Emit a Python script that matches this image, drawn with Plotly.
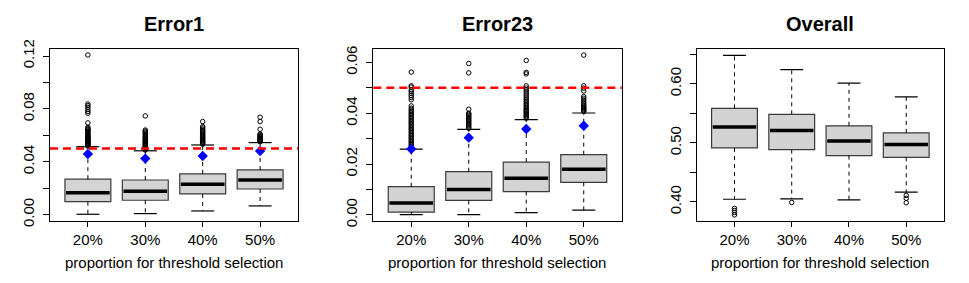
import plotly.graph_objects as go

categories = ["20%", "30%", "40%", "50%"]
panel_titles = ["Error1", "Error23", "Overall"]
x_title = "proportion for threshold selection"

# Error1 box statistics
e1_lower = [0.0003, 0.0008, 0.0028, 0.0066]
e1_q1 = [0.0098, 0.0109, 0.0157, 0.0194]
e1_median = [0.0166, 0.0177, 0.0230, 0.0262]
e1_q3 = [0.0268, 0.0262, 0.0308, 0.0338]
e1_upper = [0.0514, 0.0483, 0.0527, 0.0545]
e1_mean = [0.0459, 0.0424, 0.0444, 0.0482]
e1_out_20 = [0.0518, 0.0523, 0.0528, 0.0532, 0.0537, 0.0541, 0.0546, 0.0550, 0.0555,
             0.0560, 0.0565, 0.0570, 0.0576, 0.0581, 0.0587, 0.0593, 0.0600, 0.0607,
             0.0614, 0.0622, 0.0630, 0.0638, 0.0645, 0.0652, 0.0660, 0.0694, 0.0767,
             0.0780, 0.0795, 0.0812, 0.0825, 0.0837, 0.1208]
e1_out_30 = [0.0489, 0.0495, 0.0500, 0.0506, 0.0512, 0.0518, 0.0524, 0.0530, 0.0536,
             0.0542, 0.0548, 0.0555, 0.0562, 0.0569, 0.0576, 0.0584, 0.0592, 0.0600,
             0.0608, 0.0616, 0.0624, 0.0632, 0.0640, 0.0747]
e1_out_40 = [0.0533, 0.0540, 0.0547, 0.0554, 0.0561, 0.0568, 0.0576, 0.0584, 0.0592,
             0.0600, 0.0609, 0.0618, 0.0627, 0.0636, 0.0646, 0.0656, 0.0666, 0.0704]
e1_out_50 = [0.0552, 0.0557, 0.0562, 0.0567, 0.0572, 0.0578, 0.0584, 0.0590, 0.0597,
             0.0604, 0.0610, 0.0646, 0.0704, 0.0737]

# Error23 box statistics
e23_lower = [0.0001, 0.0001, 0.0009, 0.0019]
e23_q1 = [0.0011, 0.0057, 0.0092, 0.0128]
e23_median = [0.0047, 0.0100, 0.0144, 0.0180]
e23_q3 = [0.0111, 0.0170, 0.0208, 0.0237]
e23_upper = [0.0259, 0.0337, 0.0375, 0.0401]
e23_mean = [0.0259, 0.0304, 0.0338, 0.0351]
e23_out_20 = [0.0264, 0.0270, 0.0275, 0.0281, 0.0287, 0.0293, 0.0299, 0.0305, 0.0311,
              0.0317, 0.0323, 0.0329, 0.0335, 0.0341, 0.0347, 0.0353, 0.0359, 0.0365,
              0.0371, 0.0377, 0.0383, 0.0389, 0.0395, 0.0401, 0.0407, 0.0413, 0.0420,
              0.0429, 0.0453, 0.0462, 0.0470, 0.0478, 0.0485, 0.0492, 0.0503, 0.0508,
              0.0562]
e23_out_30 = [0.0341, 0.0346, 0.0351, 0.0356, 0.0361, 0.0366, 0.0371, 0.0376, 0.0381,
              0.0386, 0.0391, 0.0396, 0.0400, 0.0416, 0.0559, 0.0596]
e23_out_40 = [0.0381, 0.0386, 0.0391, 0.0396, 0.0401, 0.0406, 0.0411, 0.0416, 0.0422,
              0.0428, 0.0434, 0.0440, 0.0446, 0.0453, 0.0460, 0.0468, 0.0476, 0.0484,
              0.0492, 0.0499, 0.0508, 0.0555, 0.0561, 0.0608]
e23_out_50 = [0.0407, 0.0411, 0.0415, 0.0419, 0.0423, 0.0428, 0.0433, 0.0439, 0.0445,
              0.0452, 0.0459, 0.0466, 0.0488, 0.0499, 0.0508, 0.0629]

# Overall box statistics
ov_lower = [0.4045, 0.4051, 0.4034, 0.4164]
ov_q1 = [0.4914, 0.4886, 0.4784, 0.4755]
ov_median = [0.5267, 0.5210, 0.5033, 0.4971]
ov_q3 = [0.5585, 0.5483, 0.5289, 0.5170]
ov_upper = [0.6482, 0.6243, 0.6011, 0.5778]
ov_out_20 = [0.3890, 0.3855, 0.3820, 0.3780]
ov_out_30 = [0.3990]
ov_out_40 = []
ov_out_50 = [0.4110, 0.4060, 0.3985]

threshold = 0.05

e1_ticks = [0.00, 0.02, 0.04, 0.06, 0.08, 0.10, 0.12]
e1_ticktext = ["0.00", "", "0.04", "", "0.08", "", "0.12"]
e23_ticks = [0.00, 0.01, 0.02, 0.03, 0.04, 0.05, 0.06]
e23_ticktext = ["0.00", "", "0.02", "", "0.04", "", "0.06"]
ov_ticks = [0.40, 0.45, 0.50, 0.55, 0.60, 0.65]
ov_ticktext = ["0.40", "", "0.50", "", "0.60", ""]

panels = [
    dict(lower=e1_lower, q1=e1_q1, med=e1_median, q3=e1_q3, upper=e1_upper,
         mean=e1_mean, outs=[e1_out_20, e1_out_30, e1_out_40, e1_out_50],
         ticks=e1_ticks, ticktext=e1_ticktext, yrange=[-0.0048, 0.1253], hline=True),
    dict(lower=e23_lower, q1=e23_q1, med=e23_median, q3=e23_q3, upper=e23_upper,
         mean=e23_mean, outs=[e23_out_20, e23_out_30, e23_out_40, e23_out_50],
         ticks=e23_ticks, ticktext=e23_ticktext, yrange=[-0.0024, 0.0653], hline=True),
    dict(lower=ov_lower, q1=ov_q1, med=ov_median, q3=ov_q3, upper=ov_upper,
         mean=None, outs=[ov_out_20, ov_out_30, ov_out_40, ov_out_50],
         ticks=ov_ticks, ticktext=ov_ticktext, yrange=[0.3676, 0.6591], hline=False),
]

W, H = 969, 283
x_px = [(50, 298), (373.3, 621.7), (696.7, 944)]
y_px = (49, 221)
FONT = "Liberation Sans, Arial, Helvetica, sans-serif"

fig = go.Figure()
xpos = list(range(1, len(categories) + 1))
BW = 0.8

for k, p in enumerate(panels):
    xa = "x" if k == 0 else f"x{k+1}"
    ya = "y" if k == 0 else f"y{k+1}"
    # box bodies
    fig.add_trace(go.Bar(
        x=xpos, base=p["q1"], y=[b - a for a, b in zip(p["q1"], p["q3"])],
        width=BW, marker=dict(color="#d3d3d3", line=dict(color="#3a3a3a", width=1.2)),
        xaxis=xa, yaxis=ya, showlegend=False, hoverinfo="skip"))
    # whiskers (dashed)
    wx, wy = [], []
    for i, x in enumerate(xpos):
        wx += [x, x, None, x, x, None]
        wy += [p["q3"][i], p["upper"][i], None, p["q1"][i], p["lower"][i], None]
    fig.add_trace(go.Scatter(x=wx, y=wy, mode="lines",
                             line=dict(color="black", width=1, dash="4px,4px"),
                             xaxis=xa, yaxis=ya, showlegend=False, hoverinfo="skip"))
    # staples
    sx, sy = [], []
    for i, x in enumerate(xpos):
        sx += [x - BW / 4, x + BW / 4, None, x - BW / 4, x + BW / 4, None]
        sy += [p["upper"][i], p["upper"][i], None, p["lower"][i], p["lower"][i], None]
    fig.add_trace(go.Scatter(x=sx, y=sy, mode="lines", line=dict(color="black", width=1.2),
                             xaxis=xa, yaxis=ya, showlegend=False, hoverinfo="skip"))
    # medians
    mx, my = [], []
    for i, x in enumerate(xpos):
        mx += [x - BW / 2 + 0.02, x + BW / 2 - 0.02, None]
        my += [p["med"][i], p["med"][i], None]
    fig.add_trace(go.Scatter(x=mx, y=my, mode="lines", line=dict(color="black", width=3.5),
                             xaxis=xa, yaxis=ya, showlegend=False, hoverinfo="skip"))
    # outliers
    ox, oy = [], []
    for i, x in enumerate(xpos):
        ox += [x] * len(p["outs"][i])
        oy += p["outs"][i]
    fig.add_trace(go.Scatter(x=ox, y=oy, mode="markers",
                             marker=dict(symbol="circle-open", size=4.5, color="black",
                                         line=dict(width=1)),
                             xaxis=xa, yaxis=ya, showlegend=False, hoverinfo="skip"))
    # threshold line
    if p["hline"]:
        fig.add_shape(type="line", xref=f"{xa} domain", yref=ya, x0=0, x1=1,
                      y0=threshold, y1=threshold,
                      line=dict(color="#ff0000", width=2.5, dash="8px,5px"))
    # means
    if p["mean"] is not None:
        fig.add_trace(go.Scatter(x=xpos, y=p["mean"], mode="markers",
                                 marker=dict(symbol="diamond", size=8, color="#0000ff"),
                                 xaxis=xa, yaxis=ya, showlegend=False, hoverinfo="skip"))

    xd = [x_px[k][0] / W, x_px[k][1] / W]
    yd = [1 - y_px[1] / H, 1 - y_px[0] / H]
    axis_common = dict(showline=True, linecolor="black", linewidth=1, mirror=True,
                       ticks="outside", tickcolor="black", showgrid=False, zeroline=False,
                       automargin=False,
                       tickfont=dict(family=FONT, size=15, color="black"))
    fig.layout[f"xaxis{'' if k == 0 else k+1}"] = dict(
        domain=xd, range=[0.34, 4.66], tickvals=xpos, ticktext=categories,
        ticklen=5, anchor=ya, ticklabelstandoff=0, **axis_common)
    fig.layout[f"yaxis{'' if k == 0 else k+1}"] = dict(
        domain=yd, range=p["yrange"], tickvals=p["ticks"], ticktext=p["ticktext"],
        ticklen=6, tickangle=-90, anchor=xa, ticklabelstandoff=3, **axis_common)

    cx = (x_px[k][0] + x_px[k][1]) / 2 / W
    fig.add_annotation(text=f"<b>{panel_titles[k]}</b>", x=cx, y=1 - 24.5 / H,
                       xref="paper", yref="paper", xanchor="center", yanchor="middle",
                       showarrow=False, font=dict(family=FONT, size=20, color="black"))
    fig.add_annotation(text=x_title, x=cx, y=1 - 262 / H,
                       xref="paper", yref="paper", xanchor="center", yanchor="middle",
                       showarrow=False, font=dict(family=FONT, size=15, color="black"))

fig.update_layout(width=W, height=H, margin=dict(l=0, r=0, t=0, b=0),
                  paper_bgcolor="white", plot_bgcolor="white", barmode="overlay",
                  showlegend=False)

fig.write_html("out.html", config={"displayModeBar": False},
               post_script="document.body.style.margin='0px';"
                           "document.body.style.overflow='hidden';")
